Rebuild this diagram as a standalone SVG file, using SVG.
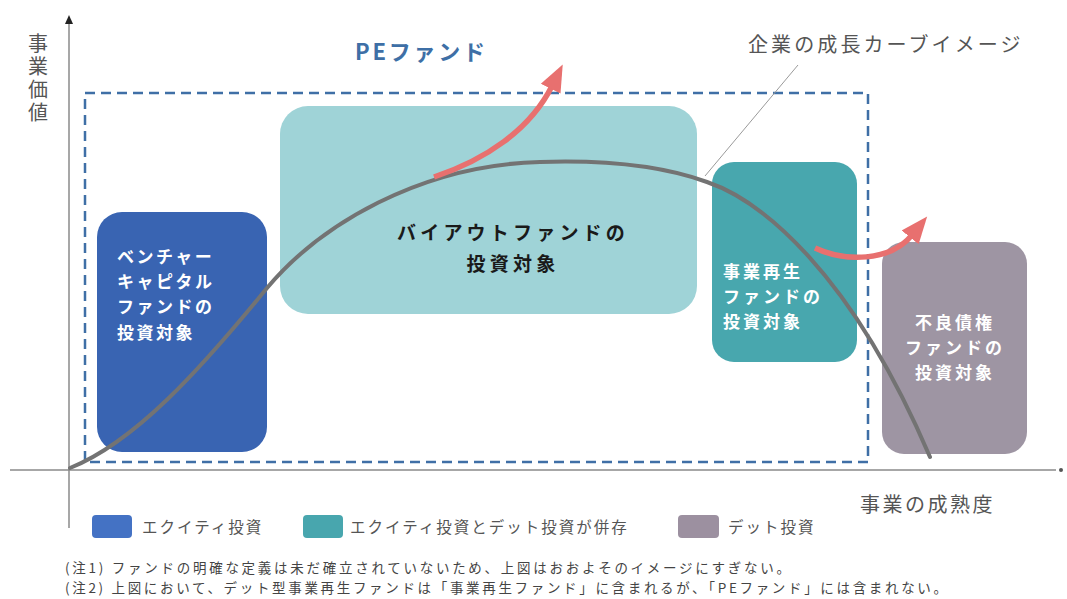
<svg xmlns="http://www.w3.org/2000/svg" width="1067" height="599" viewBox="0 0 1067 599">
<style>
text{font-family:"Noto Sans CJK JP","Noto Sans",sans-serif}
.lbl{font-size:20px;fill:#555;letter-spacing:2.5px}
.vlbl{font-size:20px;fill:#555;writing-mode:vertical-rl;text-orientation:upright;letter-spacing:3px}
.box-w{font-size:17px;font-weight:700;fill:#fff;letter-spacing:2.5px}
.box-k{font-size:19px;font-weight:700;fill:#1a1a1a;letter-spacing:4.2px}
.leg{font-size:15.5px;fill:#555;letter-spacing:2px}
.note{font-size:13.5px;fill:#444}
.curve{fill:none;stroke:#737373;stroke-width:4;stroke-linecap:round}
.red{fill:none;stroke:#e8706f;stroke-width:5.5}
.axis{stroke:#8a8a8a;stroke-width:1.5;fill:none}
</style>
<defs>
<marker id="rh" markerUnits="userSpaceOnUse" markerWidth="28" markerHeight="24" viewBox="0 0 28 24" refX="3" refY="12" orient="auto">
<path d="M0,1 L27,12 L0,23 Z" fill="#e8706f"/>
</marker>
<marker id="ah" markerUnits="userSpaceOnUse" markerWidth="9" markerHeight="8" viewBox="0 0 9 8" refX="1" refY="4" orient="auto">
<path d="M0,0 L9,4 L0,8 Z" fill="#222"/>
</marker>
</defs>

<g id="axes">
<line class="axis" x1="69" y1="528" x2="69" y2="23" marker-end="url(#ah)"/>
<line class="axis" x1="10" y1="470" x2="1056" y2="470"/>
<circle cx="1061" cy="470" r="2" fill="#555"/>
<text class="vlbl" x="38" y="33">事業価値</text>
<text class="lbl" x="860" y="512">事業の成熟度</text>
</g>

<g id="pe-fund">
<rect x="85" y="93" width="783" height="369" fill="none" stroke="#3f6fa6" stroke-width="2.5" stroke-dasharray="10,6"/>
<text x="355" y="60" font-size="22" font-weight="700" fill="#3e6fa6" textLength="130" lengthAdjust="spacing">PEファンド</text>
</g>

<g id="venture">
<rect x="97" y="212" width="170" height="240" rx="25" fill="#3964b2"/>
<text class="box-w"><tspan x="117" y="263">ベンチャー</tspan><tspan x="117" y="288">キャピタル</tspan><tspan x="117" y="313">ファンドの</tspan><tspan x="117" y="339">投資対象</tspan></text>
</g>

<g id="buyout">
<rect x="280" y="106" width="417" height="208" rx="28" fill="#9fd3d7"/>
<text class="box-k" text-anchor="middle"><tspan x="513" y="240">バイアウトファンドの</tspan><tspan x="513" y="271">投資対象</tspan></text>
</g>

<g id="restructuring">
<rect x="712" y="162" width="145" height="200" rx="22" fill="#48a7ae"/>
<text class="box-w" style="letter-spacing:3px"><tspan x="723" y="278">事業再生</tspan><tspan x="723" y="303">ファンドの</tspan><tspan x="723" y="328">投資対象</tspan></text>
</g>

<g id="distressed">
<rect x="882" y="242" width="145" height="212" rx="22" fill="#9e95a3"/>
<text class="box-w" style="letter-spacing:3px" text-anchor="middle"><tspan x="955" y="329">不良債権</tspan><tspan x="955" y="354">ファンドの</tspan><tspan x="955" y="379">投資対象</tspan></text>
</g>

<g id="connectors">
<path class="curve" d="M70,468 C135,442 200,370 267,288 C320,225 420,165 540,162 C600,160 660,165 707,182 C760,200 850,270 930,457"/>
<path class="red" d="M434,177 C485,160 530,130 552,86" marker-end="url(#rh)"/>
<path class="red" d="M815,248 C845,262 890,262 912,235" marker-end="url(#rh)"/>
<line x1="798" y1="65" x2="705" y2="176" stroke="#9a9a9a" stroke-width="1"/>
</g>

<g id="annotation">
<text class="lbl" x="748" y="52" textLength="275" lengthAdjust="spacing">企業の成長カーブイメージ</text>
</g>

<g id="legend">
<rect x="92" y="515" width="40" height="23" rx="4" fill="#4472c4"/>
<text class="leg" x="142" y="533">エクイティ投資</text>
<rect x="303" y="515" width="40" height="23" rx="4" fill="#48a6ae"/>
<text class="leg" x="350" y="533">エクイティ投資とデット投資が併存</text>
<rect x="678" y="515" width="41" height="23" rx="4" fill="#9c90a0"/>
<text class="leg" x="728" y="533">デット投資</text>
</g>

<g id="notes">
<text class="note" x="65" y="573" textLength="725" lengthAdjust="spacing">(注1) ファンドの明確な定義は未だ確立されていないため、上図はおおよそのイメージにすぎない。</text>
<text class="note" x="65" y="593" textLength="882" lengthAdjust="spacing">(注2) 上図において、デット型事業再生ファンドは「事業再生ファンド」に含まれるが、「PEファンド」には含まれない。</text>
</g>
</svg>
